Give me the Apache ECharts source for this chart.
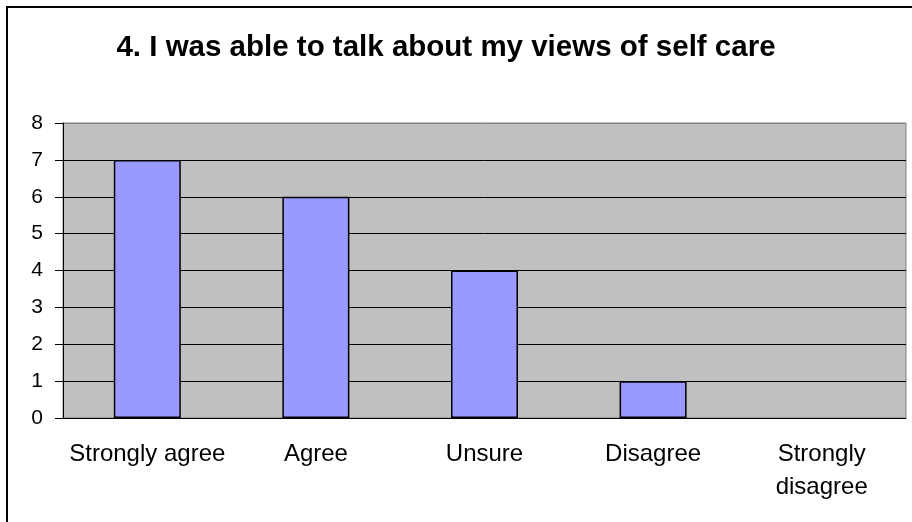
<!DOCTYPE html>
<html>
<head>
<meta charset="utf-8">
<script src="https://cdn.jsdelivr.net/npm/echarts@6/dist/echarts.min.js"></script>
<style>
html, body { margin: 0; padding: 0; background: #fff; }
#chart { width: 912px; height: 522px; }
</style>
</head>
<body>
<div id="chart"></div>
<script>
// data
var categories = ["Strongly agree", "Agree", "Unsure", "Disagree", "Strongly\ndisagree"];
var counts = [7, 6, 4, 1, 0];
var yTicks = [0, 8, 1]; // min, max, interval

var myChart = echarts.init(document.getElementById("chart"));
var font = "Liberation Sans, Arial, sans-serif";

// an empty bar should not leave its border line on the axis
var barData = counts.map(function (v) {
    return v === 0 ? { value: v, itemStyle: { borderWidth: 0 } } : v;
});

const option = {
    animation: false,
    backgroundColor: "#fff",
    // outer frame, only left and top edges fall inside the picture
    graphic: [{
        type: "rect",
        shape: { x: 7, y: 7, width: 920, height: 530 },
        style: { fill: "none", stroke: "#000", lineWidth: 2 },
        silent: true
    }],
    title: {
        text: "4. I was able to talk about my views of self care",
        left: 441,
        top: 28,
        textAlign: "center",
        textStyle: { fontFamily: font, fontSize: 29.5, fontWeight: "bold", color: "#000" }
    },
    grid: {
        left: 63, right: 6, top: 123, bottom: 104,
        show: true,
        backgroundColor: "#C0C0C0",
        borderColor: "#808080",
        borderWidth: 1
    },
    xAxis: {
        type: "category",
        data: categories,
        axisLine: { lineStyle: { color: "#000", width: 1 } },
        axisTick: { length: 7, lineStyle: { color: "#000" } },
        axisLabel: {
            interval: 0,
            fontFamily: font, fontSize: 24, color: "#000",
            margin: 20, lineHeight: 33
        }
    },
    yAxis: {
        type: "value",
        min: yTicks[0],
        max: yTicks[1],
        interval: yTicks[2],
        axisLine: { show: true, lineStyle: { color: "#000", width: 1 } },
        axisTick: { show: true, length: 8, lineStyle: { color: "#000" } },
        axisLabel: { fontFamily: font, fontSize: 21, color: "#000", margin: 20 },
        splitLine: {
            show: true,
            lineStyle: { color: ["#000", "#000", "#000", "#000", "#000", "#000", "#000", "#000", "#808080"], width: 1 }
        }
    },
    series: [{
        type: "bar",
        data: barData,
        barWidth: 67,
        itemStyle: { color: "#9999FF", borderColor: "#000", borderWidth: 1.5 }
    }]
};
myChart.setOption(option);
</script>
</body>
</html>
